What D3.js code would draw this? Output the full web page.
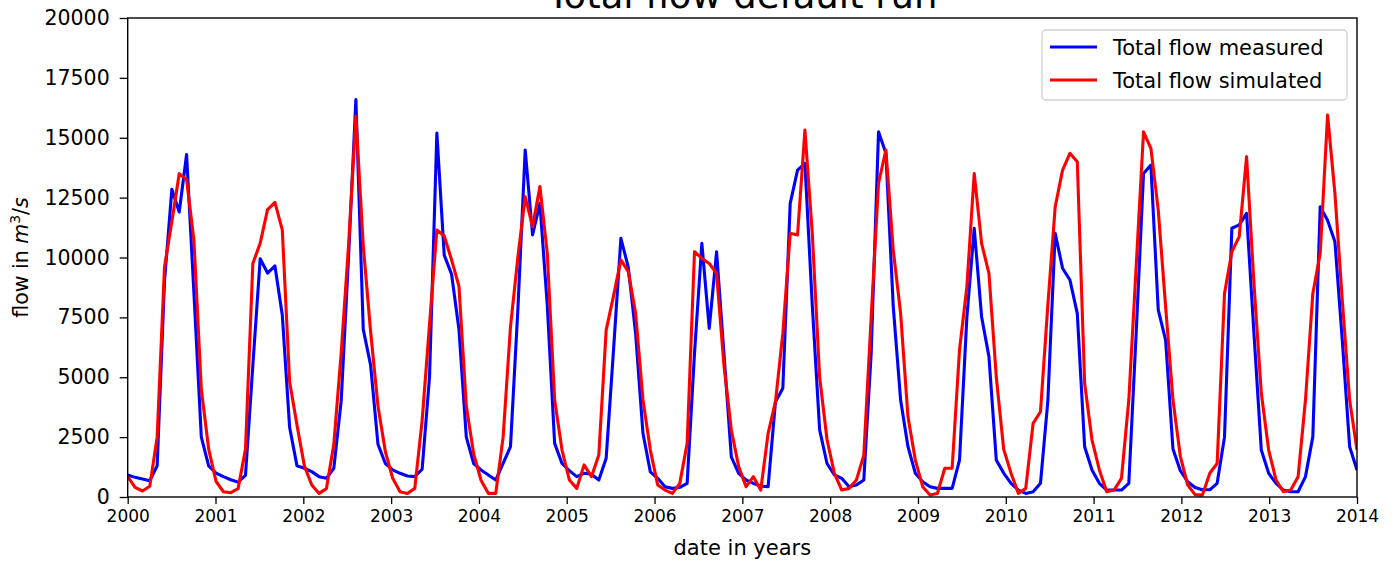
<!DOCTYPE html>
<html>
<head>
<meta charset="utf-8">
<script src="https://cdn.jsdelivr.net/npm/d3@7"></script>
<style>
  body { margin: 0; background: #fff; }
  text { font-family: "DejaVu Sans", sans-serif; fill: #000; }
</style>
</head>
<body>
<div id="chart"></div>
<script>
'use strict';

// monthly values, 2000 .. 2013 (12 per row), spread evenly over 2000-2014
var measured = [
	920, 820, 750, 680, 1300, 9000, 12850, 11900, 14300, 8500, 2500, 1300,
	1000, 850, 720, 620, 900, 5500, 9950, 9350, 9650, 7600, 2900, 1300,
	1200, 1060, 850, 780, 1200, 4000, 10000, 16600, 7000, 5500, 2200, 1400,
	1130, 990, 880, 850, 1160, 5000, 15200, 10100, 9300, 7000, 2500, 1400,
	1130, 920, 710, 1400, 2100, 7800, 14490, 10940, 12260, 8000, 2240, 1400,
	1100, 850, 990, 950, 710, 1620, 6140, 10800, 9600, 6830, 2660, 1050,
	780, 430, 360, 400, 570, 6000, 10590, 7040, 10240, 6000, 1680, 990,
	710, 570, 450, 430, 3980, 4540, 12260, 13650, 13930, 8000, 2800, 1400,
	920, 780, 430, 500, 710, 6000, 15250, 14350, 7950, 4050, 2100, 990,
	640, 430, 360, 360, 360, 1540, 7500, 11220, 7530, 5860, 1540, 1000,
	570, 290, 150, 220, 570, 4000, 11010, 9550, 9060, 7670, 2100, 1130,
	570, 290, 290, 290, 570, 6830, 13510, 13860, 7810, 6550, 2000, 1100,
	640, 400, 300, 300, 570, 2500, 11220, 11360, 11840, 6830, 1960, 990,
	570, 290, 220, 220, 850, 2520, 12120, 11560, 10660, 6550, 2100, 1130
];

var simulated = [
	850, 400, 250, 450, 2500, 9600, 11500, 13500, 13250, 10700, 4500, 2000,
	650, 220, 180, 350, 2000, 9750, 10600, 12000, 12300, 11150, 4800, 3000,
	1300, 500, 150, 350, 2200, 6000, 10500, 15900, 10500, 6900, 3800, 1900,
	780, 220, 150, 360, 3200, 7200, 11150, 10900, 9900, 8800, 3800, 1800,
	700, 150, 150, 2500, 7100, 10000, 12540, 11290, 12960, 10170, 4050, 1960,
	710, 360, 1340, 850, 1750, 6970, 8400, 9900, 9410, 7670, 4050, 1960,
	500, 290, 150, 570, 2240, 10240, 9960, 9750, 9340, 5500, 2800, 1270,
	430, 850, 290, 2660, 3980, 6830, 11010, 10940, 15320, 11010, 5000, 2400,
	990, 290, 360, 710, 1750, 7500, 13100, 14490, 10310, 7670, 3350, 1540,
	430, 80, 150, 1200, 1200, 6140, 8780, 13510, 10590, 9340, 5000, 2000,
	990, 150, 360, 3075, 3560, 8000, 12120, 13650, 14350, 14000, 4750, 2380,
	1130, 220, 290, 780, 4050, 9620, 15250, 14560, 11980, 7950, 4050, 1700,
	500, 100, 80, 990, 1400, 8500, 10240, 10870, 14210, 8920, 4330, 1960,
	710, 220, 290, 850, 4050, 8500, 10170, 15950, 12680, 8225, 4050, 1960
];

var xTicks = [2000, 2001, 2002, 2003, 2004, 2005, 2006, 2007, 2008, 2009, 2010, 2011, 2012, 2013, 2014];
var yTicks = [0, 2500, 5000, 7500, 10000, 12500, 15000, 17500, 20000];
var seriesNames = ["Total flow measured", "Total flow simulated"];
var seriesColors = ["#0000ff", "#ff0000"];

var width = 1397, height = 564;
var margin = { left: 127.7, right: 40, top: 18, bottom: 67 };

var svg = d3.select("#chart")
	.append("svg")
	.attr("width", width)
	.attr("height", height);

svg.append("rect").attr("width", width).attr("height", height).attr("fill", "#fff");

var x = d3.scaleLinear().domain([2000, 2014]).range([margin.left, width - margin.right]);
var y = d3.scaleLinear().domain([0, 20000]).range([height - margin.bottom, margin.top]);

// points spread evenly across the axis range (like linspace)
var n = measured.length;
var tx = function(i) { return 2000 + 14 * i / (n - 1); };

svg.append("clipPath").attr("id", "plotClip")
	.append("rect")
	.attr("x", x(2000)).attr("y", y(20000))
	.attr("width", x(2014) - x(2000)).attr("height", y(0) - y(20000));

var line = d3.line()
	.x(function(d, i) { return x(tx(i)); })
	.y(function(d) { return y(d); });

var plot = svg.append("g").attr("clip-path", "url(#plotClip)");
[measured, simulated].forEach(function(s, j) {
	plot.append("path")
		.attr("d", line(s))
		.attr("fill", "none")
		.attr("stroke", seriesColors[j])
		.attr("stroke-width", 3.1)
		.attr("stroke-linejoin", "round");
});

// axes
var xAxis = svg.append("g")
	.attr("transform", "translate(0," + y(0) + ")")
	.call(d3.axisBottom(x).tickValues(xTicks).tickFormat(d3.format("d")).tickSize(7).tickPadding(6));
xAxis.selectAll("text").attr("font-size", 17).attr("font-family", "DejaVu Sans");

var yAxis = svg.append("g")
	.attr("transform", "translate(" + x(2000) + ",0)")
	.call(d3.axisLeft(y).tickValues(yTicks).tickFormat(d3.format("d")).tickSize(8).tickPadding(10));
yAxis.selectAll("text").attr("font-size", 20.5).attr("font-family", "DejaVu Sans");

svg.selectAll(".domain").remove();
svg.selectAll(".tick line").attr("stroke", "#000").attr("stroke-width", 1.3);

svg.append("rect")
	.attr("x", x(2000)).attr("y", y(20000))
	.attr("width", x(2014) - x(2000)).attr("height", y(0) - y(20000))
	.attr("fill", "none").attr("stroke", "#000").attr("stroke-width", 1.4);

// title (partly cut off at top, as in the source figure)
svg.append("text")
	.attr("x", (x(2000) + x(2014)) / 2)
	.attr("y", 8)
	.attr("text-anchor", "middle")
	.attr("font-size", 37)
	.text("Total flow default run");

svg.append("text")
	.attr("x", (x(2000) + x(2014)) / 2)
	.attr("y", 555)
	.attr("text-anchor", "middle")
	.attr("font-size", 21)
	.text("date in years");

var yl = svg.append("text")
	.attr("transform", "translate(28," + (y(0) + y(20000)) / 2 + ") rotate(-90)")
	.attr("text-anchor", "middle")
	.attr("font-size", 20.5);
yl.append("tspan").text("flow in ");
yl.append("tspan").attr("font-style", "italic").text("m");
yl.append("tspan").attr("font-size", 14).attr("dy", -8).text("3");
yl.append("tspan").attr("dy", 8).text("/");
yl.append("tspan").attr("font-style", "italic").text("s");

// legend
var legend = svg.append("g").attr("transform", "translate(1042,30)");
legend.append("rect")
	.attr("width", 305).attr("height", 70)
	.attr("rx", 4)
	.attr("fill", "#fff")
	.attr("stroke", "#d0d0d0")
	.attr("stroke-width", 1.3);
seriesNames.forEach(function(name, j) {
	var yy = 17 + j * 33;
	legend.append("line")
		.attr("x1", 8).attr("x2", 55)
		.attr("y1", yy).attr("y2", yy)
		.attr("stroke", seriesColors[j]).attr("stroke-width", 3.1);
	legend.append("text")
		.attr("x", 71).attr("y", yy + 7.5)
		.attr("font-size", 21)
		.text(name);
});
</script>
</body>
</html>
